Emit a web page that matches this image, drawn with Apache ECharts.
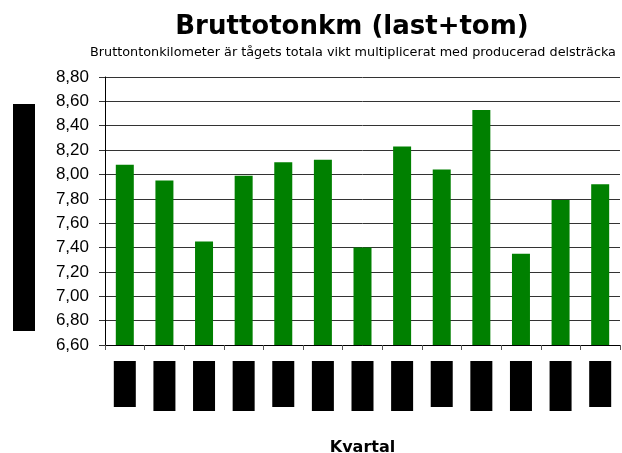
<!DOCTYPE html>
<html>
<head>
<meta charset="utf-8">
<script src="https://cdn.jsdelivr.net/npm/echarts@6/dist/echarts.min.js"></script>
<style>
  html, body { margin: 0; padding: 0; background: #fff; }
  #chart { width: 622px; height: 453px; }
</style>
</head>
<body>
<div id="chart"></div>
<script>
// kvartal (etiketterna är maskade i originalet)
var categories = ['K1', 'K2', 'K3', 'K4', 'K1', 'K2', 'K3', 'K4', 'K1', 'K2', 'K3', 'K4', 'K1'];
var bruttotonkm = [8.08, 7.95, 7.45, 7.99, 8.10, 8.12, 7.40, 8.23, 8.04, 8.53, 7.35, 7.79, 7.92];
var yTicks = { min: 6.6, max: 8.8, step: 0.2 };

var myChart = echarts.init(document.getElementById('chart'));
var option = {
	animation: false,
	title: [
		{
			text: 'Bruttotonkm (last+tom)',
			left: 347,
			top: 9,
			textAlign: 'center',
			textStyle: {
				fontFamily: 'DejaVu Sans',
				fontWeight: 'bold',
				fontSize: 26,
				color: '#000'
			}
		},
		{
			text: 'Bruttontonkilometer är tågets totala vikt multiplicerat med producerad delsträcka',
			left: 348,
			top: 41,
			textAlign: 'center',
			textStyle: {
				fontFamily: 'DejaVu Sans',
				fontWeight: 'normal',
				fontSize: 12.8,
				color: '#000'
			}
		}
	],
	grid: {
		left: 105,
		right: 2,
		top: 77,
		bottom: 108,
		containLabel: false,
		outerBoundsMode: 'none'
	},
	xAxis: {
		type: 'category',
		data: categories,
		name: 'Kvartal',
		nameLocation: 'middle',
		nameGap: 95,
		nameTextStyle: {
			fontFamily: 'DejaVu Sans',
			fontWeight: 'bold',
			fontSize: 16,
			color: '#000'
		},
		axisLine: { lineStyle: { color: '#000', width: 1 } },
		axisTick: { show: true, length: 5, lineStyle: { color: '#555' } },
		axisLabel: {
			interval: 0,
			margin: 16,
			formatter: function (value, index) {
				return index % 4 === 0 ? '{s| }' : '{t| }';
			},
			rich: {
				s: { width: 22, height: 46, backgroundColor: '#000' },
				t: { width: 22, height: 50, backgroundColor: '#000' }
			}
		}
	},
	yAxis: {
		type: 'value',
		min: yTicks.min,
		max: yTicks.max,
		interval: yTicks.step,
		name: '{b| }',
		nameLocation: 'middle',
		nameRotate: 0,
		nameGap: 70,
		nameTextStyle: {
			padding: [13, 0, 0, 0],
			rich: { b: { width: 22, height: 227, backgroundColor: '#000' } }
		},
		axisLine: { show: true, lineStyle: { color: '#000', width: 1 } },
		axisTick: { show: true, length: 6, lineStyle: { color: '#333' } },
		axisLabel: {
			margin: 16,
			fontFamily: 'Liberation Sans',
			fontSize: 17,
			color: '#000',
			formatter: function (v) { return v.toFixed(2).replace('.', ','); }
		},
		splitLine: { lineStyle: { color: '#333', width: 1 } }
	},
	series: [
		{
			name: 'Bruttotonkm',
			type: 'bar',
			data: bruttotonkm,
			barWidth: 18,
			itemStyle: { color: '#008000' }
		}
	]
};
option && myChart.setOption(option);
</script>
</body>
</html>
